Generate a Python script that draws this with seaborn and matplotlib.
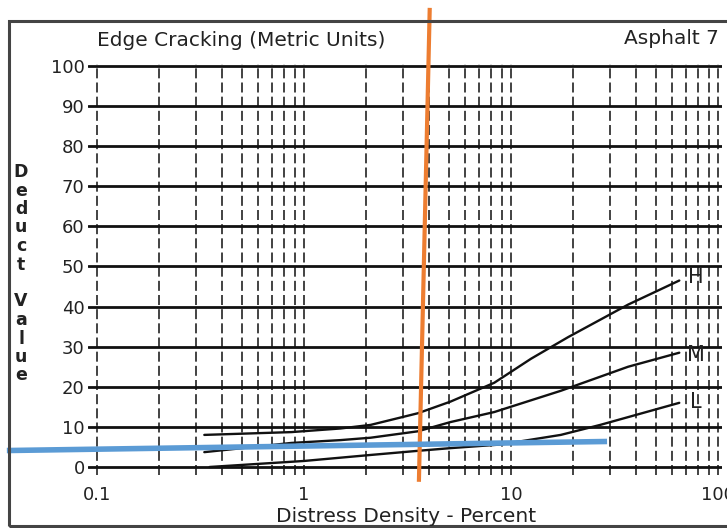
import numpy as np
import pandas as pd
import seaborn as sns
import matplotlib
matplotlib.use("Agg")
import matplotlib.pyplot as plt
from matplotlib.patches import Rectangle

# ---- data ----
h_x = [0.33, 0.87, 1.5, 2.1, 3.55, 5.1, 8.3, 12.5, 18.9, 36.8, 65]
h_y = [8.0, 8.7, 9.6, 10.5, 13.4, 16.3, 21.0, 27.0, 32.4, 40.5, 46.5]
m_x = [0.33, 0.87, 1.5, 2.1, 3.55, 5.1, 8.3, 17.4, 36.8, 65]
m_y = [3.7, 6.0, 6.7, 7.3, 8.9, 11.2, 13.7, 19.0, 25.0, 28.5]
l_x = [0.35, 1.0, 2.1, 3.5, 5.1, 8.9, 17.4, 27.0, 65]
l_y = [0.0, 1.5, 3.0, 4.0, 4.7, 5.6, 8.0, 10.5, 16.0]
label_names = ["H", "M", "L"]
label_y = [47.4, 27.9, 16.2]
label_x = 78.0

x_ticks = [0.1, 1, 10, 100]
x_ticklabels = ["0.1", "1", "10", "100"]
y_ticks = [0, 10, 20, 30, 40, 50, 60, 70, 80, 90, 100]

orange_x = [4.05, 3.59]
orange_y = [114.5, -3.7]
blue_x = [0.0367, 29.1]
blue_y = [4.1, 6.36]

title = "Edge Cracking (Metric Units)"
corner = "Asphalt 7"
xlabel = "Distress Density - Percent"
ylabel = "Deduct Value"

# ---- figure ----
sns.set_style("white")
plt.rcParams['font.family'] = ['DejaVu Sans']
W, H = 727, 528
fig = plt.figure(figsize=(W / 100, H / 100), dpi=100)
fig.patch.set_facecolor("white")

def fx(px):
    return px / W

def fy(py):
    return 1 - py / H

ax = fig.add_axes([fx(87.5), fy(475), (722.4 - 87.5) / W, (475 - 64) / H])
ax.set_xscale("log")
ax.set_xlim(0.09, 105)
ax.set_ylim(-2, 100.5)

df = pd.concat([
    pd.DataFrame({"x": h_x, "y": h_y, "s": "H"}),
    pd.DataFrame({"x": m_x, "y": m_y, "s": "M"}),
    pd.DataFrame({"x": l_x, "y": l_y, "s": "L"}),
])
sns.lineplot(data=df, x="x", y="y", units="s", estimator=None, color="#111111",
             lw=1.7, ax=ax, legend=False, sort=True)

ax.set_xticks(x_ticks)
ax.set_xticklabels(x_ticklabels)
minor = [m * d for d in [0.1, 1, 10] for m in range(2, 10)]
ax.set_xticks(minor, minor=True)
ax.xaxis.set_minor_formatter(matplotlib.ticker.NullFormatter())
ax.set_yticks(y_ticks)
ax.set_yticklabels([str(v) for v in y_ticks])
ax.tick_params(axis="both", which="both", length=0, labelsize=13, colors="#222222")
ax.tick_params(axis="x", pad=8)
ax.tick_params(axis="y", pad=2)
ax.set_xlabel("")
ax.set_ylabel("")
ax.grid(axis="x", which="both", color="#222222", linestyle=(0, (6, 2.5)), lw=1.2)
ax.grid(axis="y", which="major", color="#111111", linestyle="-", lw=2.0)
for sp in ["top", "right", "bottom", "left"]:
    ax.spines[sp].set_visible(False)
ax.set_axisbelow(True)

for name, yy in zip(label_names, label_y):
    ax.text(label_x, yy, name, ha="center", va="center", fontsize=15, color="#222222")

# overlay lines
ax.plot(orange_x, orange_y, color="#ED7D31", lw=3, clip_on=False, zorder=5,
        solid_capstyle="butt")
ax.plot(blue_x, blue_y, color="#5B9BD5", lw=4, clip_on=False, zorder=6,
        solid_capstyle="butt")

# texts
fig.text(fx(97), fy(40), title, ha="left", va="center", fontsize=14.5, color="#222222")
fig.text(fx(624), fy(38), corner, ha="left", va="center", fontsize=14.5, color="#222222")
fig.text(fx(406), fy(517), xlabel, ha="center", va="center", fontsize=14.5, color="#222222")
letters = list("Deduct") + [""] + list("Value")
for i, ch in enumerate(letters):
    if ch:
        fig.text(fx(21), fy(172 + i * 18.5), ch, ha="center", va="center",
                 fontsize=12.5, fontweight="bold", color="#222222")

fig.add_artist(Rectangle((fx(9), fy(526)), 1.2, fy(21) - fy(526), transform=fig.transFigure,
                         fill=False, lw=2.2, ec="#444444"))

fig.savefig("out.png", dpi=100)
